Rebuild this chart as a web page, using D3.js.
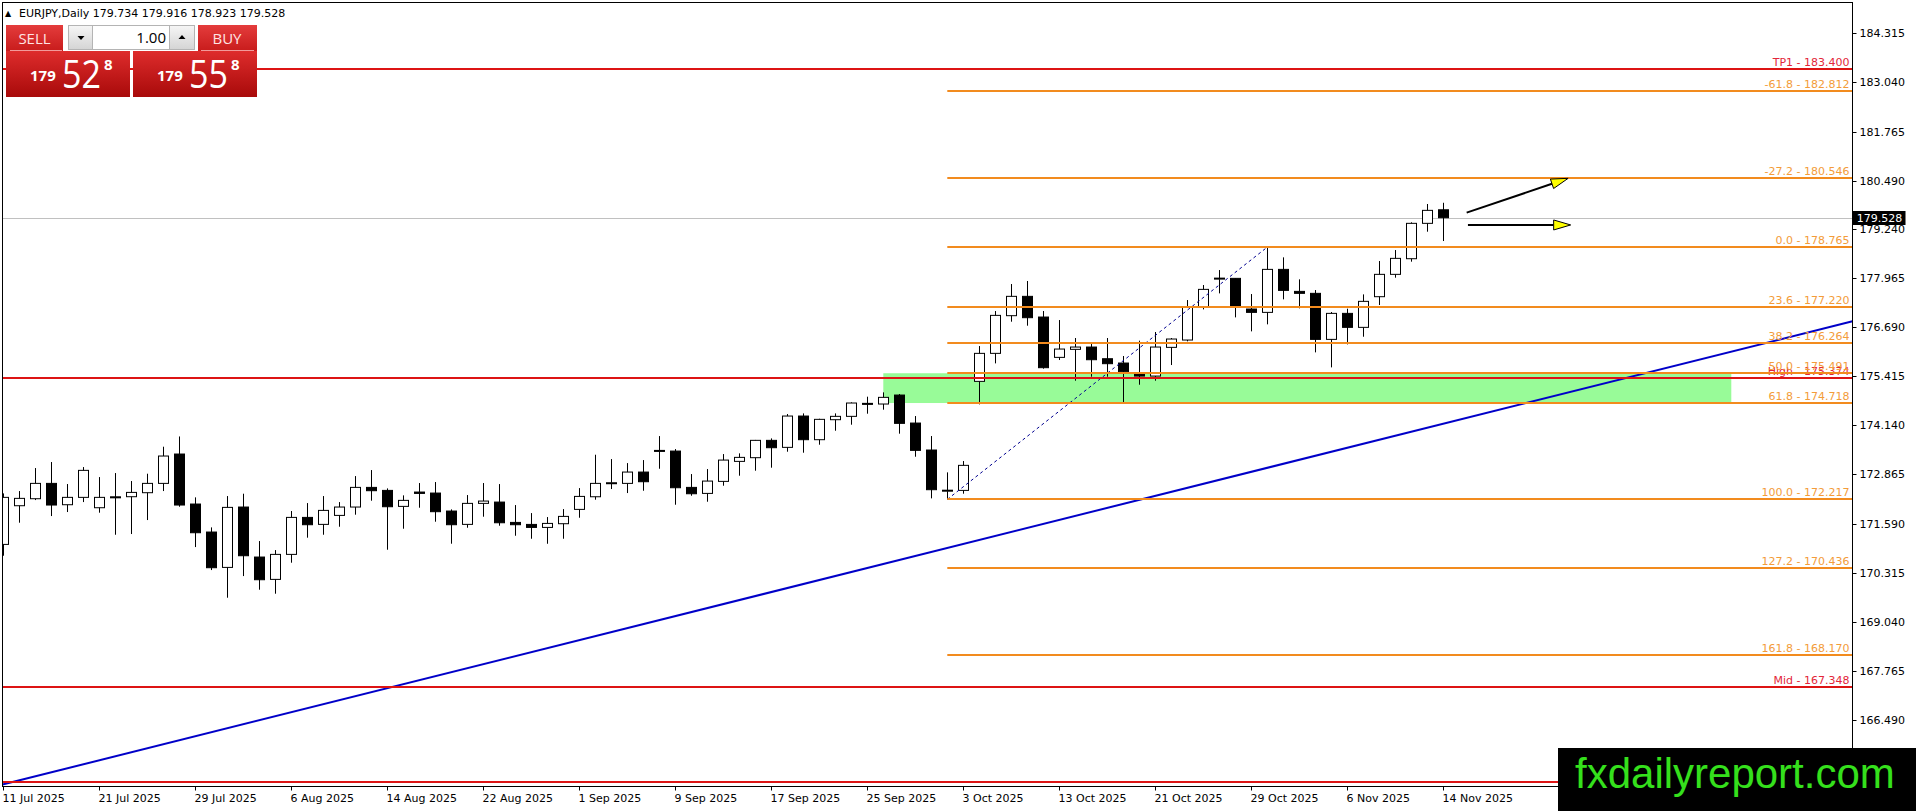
<!DOCTYPE html>
<html lang="en">
<head>
<meta charset="UTF-8">
<title>EURJPY Daily</title>
<script src="https://d3js.org/d3.v7.min.js"></script>
<style>
  body { margin: 0; background: #fff; overflow: hidden; }
  svg { display: block; }
  text { font-family: "DejaVu Sans", sans-serif; }
</style>
</head>
<body>
<svg width="1916" height="811"></svg>
<script>
// daily bars, 11 Jul 2025 -> 14 Nov 2025
const opens = [171.048,172.052,172.234,172.632,172.078,172.269,172.000,172.283,172.286,172.390,
  172.632,173.394,172.096,171.369,170.451,172.018,170.720,170.140,170.789,171.749,
  171.568,171.801,172.018,172.528,172.450,172.035,172.407,172.381,171.914,171.568,
  172.113,172.147,171.619,171.567,171.489,171.585,171.957,172.285,172.632,172.632,
  172.926,173.488,173.471,172.528,172.372,172.684,173.203,173.299,173.749,173.567,
  174.380,173.766,174.285,174.372,174.709,174.692,174.925,174.198,173.498,172.450,
  172.450,175.280,176.007,176.985,177.487,176.950,175.903,176.111,176.171,175.868,
  175.756,175.470,175.418,176.163,176.353,177.201,177.954,177.954,177.158,177.071,
  178.187,177.616,177.565,176.370,177.045,176.682,177.478,178.058,178.464,179.382,
  179.734];
const highs = [172.372,172.433,173.030,173.186,172.615,173.056,172.796,172.900,172.693,172.883,
  173.584,173.850,172.269,171.490,172.303,172.364,171.135,170.901,171.914,172.121,
  172.303,172.147,172.822,172.978,172.502,172.321,172.641,172.667,171.957,172.329,
  172.641,172.614,172.069,171.861,171.758,171.965,172.510,173.376,173.263,173.159,
  173.237,173.860,173.523,172.874,173.004,173.393,173.411,173.760,173.800,174.432,
  174.449,174.310,174.449,174.735,174.882,174.995,174.951,174.380,173.861,172.918,
  173.212,176.197,177.106,177.807,177.885,177.106,176.872,176.405,176.249,176.405,
  175.938,176.336,176.561,176.405,177.391,177.781,178.170,177.954,177.547,178.765,
  178.499,177.928,177.651,177.080,177.166,177.538,178.404,178.689,179.408,179.884,
  179.916];
const lows = [170.754,171.611,172.199,171.784,171.888,172.147,171.871,171.299,171.317,171.680,
  172.433,172.026,170.979,170.382,169.664,170.226,169.872,169.768,170.573,171.222,
  171.299,171.507,171.819,172.182,170.910,171.455,172.000,171.637,171.066,171.481,
  171.767,171.533,171.273,171.195,171.065,171.195,171.740,172.208,172.485,172.381,
  172.441,173.012,172.078,172.311,172.156,172.571,172.831,172.961,173.039,173.454,
  173.428,173.636,173.999,174.155,174.441,174.545,173.922,173.324,172.243,172.217,
  172.364,174.683,175.747,176.829,176.725,175.609,175.834,175.297,175.401,175.401,
  174.735,175.193,175.297,175.704,176.318,177.149,177.564,176.941,176.578,176.760,
  177.409,177.175,176.033,175.643,176.240,176.439,177.262,177.971,178.387,179.165,
  178.923];
const closes = [172.269,172.243,172.632,172.070,172.269,172.970,172.269,172.275,172.398,172.632,
  173.342,172.070,171.351,170.443,172.009,170.754,170.131,170.789,171.749,171.559,
  171.931,172.018,172.528,172.442,172.026,172.191,172.372,171.897,171.559,172.113,
  172.173,171.610,171.559,171.489,171.593,171.775,172.294,172.632,172.649,172.926,
  172.675,173.462,172.519,172.363,172.692,173.237,173.307,173.749,173.558,174.380,
  173.766,174.294,174.372,174.718,174.683,174.865,174.190,173.489,172.468,172.455,
  173.100,176.007,176.993,177.487,176.933,175.635,176.119,176.171,175.842,175.739,
  175.531,175.418,176.171,176.379,177.210,177.668,177.960,177.201,177.071,178.187,
  177.642,177.565,176.370,177.045,176.682,177.357,178.058,178.473,179.382,179.719,
  179.528];

// one date label every 6 bars
const dateLabels = ["11 Jul 2025","21 Jul 2025","29 Jul 2025","6 Aug 2025","14 Aug 2025","22 Aug 2025",
  "1 Sep 2025","9 Sep 2025","17 Sep 2025","25 Sep 2025","3 Oct 2025","13 Oct 2025","21 Oct 2025",
  "29 Oct 2025","6 Nov 2025","14 Nov 2025"];
const priceTicks = ["184.315","183.040","181.765","180.490","179.240","177.965","176.690","175.415",
  "174.140","172.865","171.590","170.315","169.040","167.765","166.490"];

// fibonacci drawn from bar 59 low to bar 79 high
const fibNames = ["-61.8","-27.2","0.0","23.6","38.2","50.0","61.8","100.0","127.2","161.8"];
const fibPrices = [182.812,180.546,178.765,177.220,176.264,175.491,174.718,172.217,170.436,168.170];
const fibFrom = [59, 172.217], fibTo = [79, 178.765];

const redNames = ["TP1","High","Mid",""];
const redPrices = [183.400,175.374,167.348,164.870];

const zoneBars = [55, 108], zonePrices = [175.491, 174.718];
const trendPts = [[0, 164.82], [90, 174.18]];
const arrows = [[[91.46, 179.66], [97.8, 180.55]], [[91.54, 179.34], [97.96, 179.34]]];
const bid = 179.528;

const W = 1916, H = 811;
const pL = 2.5, pT = 2.5, pR = 1852.5, pB = 786.5;

const svg = d3.select("svg");
const x = d3.scaleLinear().domain([0, 90]).range([3.3, 1443.3]);
const y = d3.scaleLinear().domain([166.490, 184.315]).range([720, 33.3]);

const defs = svg.append("defs");
defs.append("clipPath").attr("id", "plot")
  .append("rect").attr("x", pL).attr("y", pT).attr("width", pR - pL).attr("height", pB - pT);

const grad = (id, c1, c2) => {
  const g = defs.append("linearGradient").attr("id", id).attr("x1", 0).attr("y1", 0).attr("x2", 0).attr("y2", 1);
  g.append("stop").attr("offset", "0%").attr("stop-color", c1);
  g.append("stop").attr("offset", "100%").attr("stop-color", c2);
};
grad("redTop", "#e43c3c", "#c81c1c");
grad("redBig", "#de2c2c", "#a80a0a");
grad("grayBtn", "#f6f6f6", "#d4d4d4");

const plot = svg.append("g").attr("clip-path", "url(#plot)");

// green zone
plot.append("rect")
  .attr("x", x(zoneBars[0])).attr("width", x(zoneBars[1]) - x(zoneBars[0]))
  .attr("y", y(zonePrices[0])).attr("height", y(zonePrices[1]) - y(zonePrices[0]))
  .attr("fill", "#98fb98");

// bid line
plot.append("line").attr("x1", pL).attr("x2", pR)
  .attr("y1", Math.round(y(bid)) + 0.5).attr("y2", Math.round(y(bid)) + 0.5)
  .attr("stroke", "#c0c0c0").attr("stroke-width", 1);

// candles
const bars = d3.range(opens.length).map(i => ({ i, o: opens[i], h: highs[i], l: lows[i], c: closes[i] }));
const cg = plot.append("g");
bars.forEach(d => {
  const cx = Math.round(x(d.i)) + 0.5;
  cg.append("line").attr("x1", cx).attr("x2", cx)
    .attr("y1", y(d.h)).attr("y2", y(d.l)).attr("stroke", "#000").attr("stroke-width", 1);
  const yt = y(Math.max(d.o, d.c)), yb = y(Math.min(d.o, d.c));
  const hgt = Math.max(1, yb - yt);
  cg.append("rect").attr("x", cx - 5).attr("width", 10)
    .attr("y", yt).attr("height", hgt)
    .attr("fill", d.c >= d.o ? "#fff" : "#000")
    .attr("stroke", "#000").attr("stroke-width", 1);
});

// trendline
const tSlope = (trendPts[1][1] - trendPts[0][1]) / (trendPts[1][0] - trendPts[0][0]);
const trendAt = px => trendPts[0][1] + tSlope * (x.invert(px) - trendPts[0][0]);
plot.append("line")
  .attr("x1", pL).attr("y1", y(trendAt(pL)))
  .attr("x2", pR).attr("y2", y(trendAt(pR)))
  .attr("stroke", "#0000c8").attr("stroke-width", 2);

// fib dashed base line
plot.append("line")
  .attr("x1", x(fibFrom[0])).attr("y1", y(fibFrom[1]))
  .attr("x2", x(fibTo[0])).attr("y2", y(fibTo[1]))
  .attr("stroke", "#000090").attr("stroke-width", 1).attr("stroke-dasharray", "3,3");

// red horizontal lines
redPrices.forEach((p, k) => {
  const yy = Math.round(y(p));
  plot.append("line").attr("x1", pL).attr("x2", pR).attr("y1", yy).attr("y2", yy)
    .attr("stroke", "#dd1414").attr("stroke-width", 2);
  if (redNames[k]) {
    plot.append("text").attr("x", pR - 3).attr("y", yy - 3)
      .attr("text-anchor", "end").attr("font-size", 11).attr("fill", "#e3263a")
      .text(`${redNames[k]} - ${p.toFixed(3)}`);
  }
});

// fib levels
fibPrices.forEach((p, k) => {
  const yy = Math.round(y(p));
  plot.append("line").attr("x1", x(fibFrom[0])).attr("x2", pR).attr("y1", yy).attr("y2", yy)
    .attr("stroke", "#f28b1e").attr("stroke-width", 2);
  plot.append("text").attr("x", pR - 3).attr("y", yy - 3)
    .attr("text-anchor", "end").attr("font-size", 11).attr("fill", "#f39c3a")
    .text(`${fibNames[k]} - ${p.toFixed(3)}`);
});

// arrows
arrows.forEach(([a, b]) => {
  const x1 = x(a[0]), y1 = y(a[1]), x2 = x(b[0]), y2 = y(b[1]);
  const ang = Math.atan2(y2 - y1, x2 - x1);
  const len = 17, hw = 5;
  const bx = x2 - len * Math.cos(ang), by = y2 - len * Math.sin(ang);
  plot.append("line").attr("x1", x1).attr("y1", y1).attr("x2", bx).attr("y2", by)
    .attr("stroke", "#000").attr("stroke-width", 2);
  const pts = [[x2, y2],
    [bx - hw * Math.sin(ang), by + hw * Math.cos(ang)],
    [bx + hw * Math.sin(ang), by - hw * Math.cos(ang)]];
  plot.append("polygon").attr("points", pts.map(p => p.join(",")).join(" "))
    .attr("fill", "#ffff00").attr("stroke", "#000").attr("stroke-width", 1);
});

// frame
svg.append("rect").attr("x", pL).attr("y", pT).attr("width", pR - pL).attr("height", pB - pT)
  .attr("fill", "none").attr("stroke", "#000").attr("stroke-width", 1);

// price axis
priceTicks.forEach(t => {
  const yy = Math.round(y(+t)) + 0.5;
  svg.append("line").attr("x1", pR).attr("x2", pR + 4).attr("y1", yy).attr("y2", yy).attr("stroke", "#000");
  svg.append("text").attr("x", pR + 7).attr("y", yy).attr("dy", "0.35em")
    .attr("font-size", 11).attr("fill", "#000").text(t);
});
const bidY = Math.round(y(bid));
svg.append("rect").attr("x", pR).attr("y", bidY - 7).attr("width", 53).attr("height", 14).attr("fill", "#000");
svg.append("text").attr("x", pR + 27).attr("y", bidY).attr("dy", "0.35em").attr("text-anchor", "middle")
  .attr("font-size", 11).attr("fill", "#fff").text(bid.toFixed(3));

// date axis
dateLabels.forEach((d, k) => {
  const xx = Math.round(x(k * 6)) + 0.5;
  svg.append("line").attr("x1", xx).attr("x2", xx).attr("y1", pB).attr("y2", pB + 4).attr("stroke", "#000");
  svg.append("text").attr("x", xx - 1).attr("y", 802).attr("font-size", 11).attr("fill", "#000").text(d);
});

// header
svg.append("text").attr("x", 5).attr("y", 16).attr("font-size", 8).text("\u25B2");
svg.append("text").attr("x", 19).attr("y", 17).attr("font-size", 11)
  .text("EURJPY,Daily  179.734 179.916 178.923 179.528");

// one-click trading panel
const pn = svg.append("g");
const uiFont = "'Open Sans', 'Noto Sans', sans-serif";
pn.append("rect").attr("x", 6).attr("y", 25).attr("width", 57).attr("height", 26).attr("fill", "url(#redTop)");
pn.append("rect").attr("x", 198).attr("y", 25).attr("width", 59).attr("height", 26).attr("fill", "url(#redTop)");
pn.append("text").attr("x", 34.5).attr("y", 44).attr("text-anchor", "middle").attr("font-size", 15)
  .attr("fill", "#ffe4e4").style("font-family", uiFont).text("SELL");
pn.append("text").attr("x", 227).attr("y", 44).attr("text-anchor", "middle").attr("font-size", 15)
  .attr("fill", "#ffe4e4").style("font-family", uiFont).text("BUY");
pn.append("line").attr("x1", 10).attr("x2", 62).attr("y1", 50.5).attr("y2", 50.5).attr("stroke", "#f29a9a");
pn.append("line").attr("x1", 201).attr("x2", 254).attr("y1", 50.5).attr("y2", 50.5).attr("stroke", "#f29a9a");
pn.append("rect").attr("x", 68.5).attr("y", 25.5).attr("width", 24).attr("height", 24)
  .attr("fill", "url(#grayBtn)").attr("stroke", "#b4b4b4");
pn.append("rect").attr("x", 92.5).attr("y", 25.5).attr("width", 77).attr("height", 24)
  .attr("fill", "#fff").attr("stroke", "#b4b4b4");
pn.append("rect").attr("x", 169.5).attr("y", 25.5).attr("width", 25).attr("height", 24)
  .attr("fill", "url(#grayBtn)").attr("stroke", "#b4b4b4");
pn.append("polygon").attr("points", "77.5,36 84.5,36 81,40").attr("fill", "#000");
pn.append("polygon").attr("points", "178.5,39 185.5,39 182,35").attr("fill", "#000");
pn.append("text").attr("x", 166).attr("y", 43).attr("text-anchor", "end").attr("font-size", 15)
  .attr("fill", "#000").style("font-family", uiFont).text("1.00");

const bigBox = (bx, big) => {
  pn.append("rect").attr("x", bx).attr("y", 51).attr("width", 124).attr("height", 46).attr("fill", "url(#redBig)");
  pn.append("text").attr("x", bx + 24).attr("y", 81).attr("font-size", 15).attr("font-weight", "bold")
    .attr("fill", "#fff").style("font-family", uiFont).text("179");
  pn.append("text").attr("x", bx + 56).attr("y", 88).attr("font-size", 39).attr("fill", "#fff")
    .attr("textLength", 39).attr("lengthAdjust", "spacingAndGlyphs")
    .style("font-family", uiFont).text(big);
  pn.append("text").attr("x", bx + 98).attr("y", 70).attr("font-size", 15).attr("font-weight", "bold")
    .attr("fill", "#fff").style("font-family", uiFont).text("8");
};
bigBox(6, "52");
bigBox(133, "55");

// watermark
svg.append("rect").attr("x", 1558).attr("y", 748).attr("width", W - 1558).attr("height", H - 748).attr("fill", "#000");
svg.append("text").attr("x", 1575).attr("y", 788).attr("font-size", 42).attr("fill", "#35e01c")
  .style("font-family", "'Liberation Sans', Arial, sans-serif").text("fxdailyreport.com");
</script>
</body>
</html>
